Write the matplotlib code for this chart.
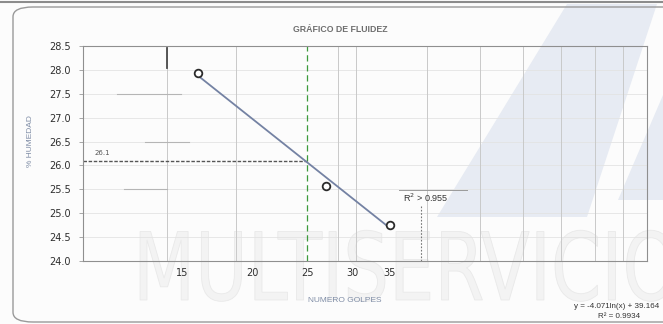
import matplotlib
matplotlib.use("Agg")
import matplotlib.pyplot as plt
import numpy as np
from matplotlib.patches import FancyBboxPatch, Polygon, PathPatch
from matplotlib.textpath import TextPath
from matplotlib.font_manager import FontProperties
from matplotlib.transforms import Affine2D

# Atterberg liquid-limit test: blow counts vs moisture content
golpes = [16, 27, 35]
humedad = [27.94, 25.56, 24.76]

# Logarithmic trendline reported by the spreadsheet
coef_a = -4.071
coef_b = 39.164
r2_fit = 0.9934
r2_label = 0.955

# Liquid limit read at 25 blows
golpes_ll = 25
humedad_ll = 26.1

x_ticks = [15, 20, 25, 30, 35]
y_ticks = [24.0, 24.5, 25.0, 25.5, 26.0, 26.5, 27.0, 27.5, 28.0, 28.5]

W, H = 663, 324
fig = plt.figure(figsize=(W / 100, H / 100), dpi=100)
fig.patch.set_facecolor("#fcfcfc")


def px(x, y):
    """pixel (from top-left) -> figure fraction"""
    return x / W, 1 - y / H


# --- background watermark -------------------------------------------------
band = [(437, 217), (567, 4), (657, 4), (587, 217)]
fig.patches.append(Polygon([px(*p) for p in band], closed=True,
                           transform=fig.transFigure, facecolor="#e7ebf3",
                           edgecolor="none", zorder=-5))
band2 = [(618, 200), (663, 95), (663, 200)]
fig.patches.append(Polygon([px(*p) for p in band2], closed=True,
                           transform=fig.transFigure, facecolor="#e7ebf3",
                           edgecolor="none", zorder=-5))

tp = TextPath((0, 0), "MULTISERVICIO", size=1,
              prop=FontProperties(family="DejaVu Sans"))
tr = Affine2D().scale(72, 94).translate(133, H - 300)
fig.patches.append(PathPatch(tp, transform=tr, facecolor="#f3f3f3",
                             edgecolor="#e9e9e9", lw=0.6, zorder=-4))

# rounded frame and scan border
fig.patches.append(FancyBboxPatch(px(13, 322), (700 - 13) / W, (322 - 7) / H,
                                  boxstyle="round,pad=0,rounding_size=0.03",
                                  transform=fig.transFigure, facecolor="none",
                                  edgecolor="#9a9a9a", lw=1.0, zorder=-3))
fig.add_artist(plt.Line2D([0, 1], [1 - 2 / H, 1 - 2 / H],
                          transform=fig.transFigure, color="#8c8c8c", lw=1.5))

# --- plot area -------------------------------------------------------------
ax = fig.add_axes([83 / W, 1 - 261 / H, (647 - 83) / W, (261 - 46) / H])
ax.set_facecolor("none")
ax.set_zorder(1)
ax.set_xscale("log")
ax.set_xlim(10, 100)
ax.set_ylim(24.0, 28.5)

# grid
for gy in y_ticks:
    ax.axhline(gy, color="#e3e3e3", lw=0.6, zorder=1)
for gx in [14.1, 18.7, 28.3, 30.5, 40.7, 50.6, 60.3, 70.5, 80.9, 90.5]:
    ax.axvline(gx, color="#c9c9c9", lw=0.7, zorder=1)
# faint leftover strokes
for yy, x0, x1 in [(27.5, 11.5, 14.9), (26.5, 12.9, 15.4), (25.5, 11.8, 14.1)]:
    ax.plot([x0, x1], [yy, yy], color="#b5b5b5", lw=0.8, zorder=1)
ax.plot([14.1, 14.1], [28.04, 28.45], color="#4a4a4a", lw=1.3, zorder=2)

ax.set_xticks(x_ticks)
ax.set_xticklabels([str(v) for v in x_ticks])
ax.xaxis.set_minor_locator(matplotlib.ticker.NullLocator())
ax.set_yticks(y_ticks)
ax.set_yticklabels([f"{v:.1f}" for v in y_ticks])
ax.tick_params(axis="x", length=0, pad=5, labelsize=7, labelcolor="#2e2e2e")
ax.tick_params(axis="y", length=3, width=0.6, color="#999999", pad=6,
               labelsize=7, labelcolor="#2e2e2e")
for s in ax.spines.values():
    s.set_color("#8f8f8f")
    s.set_linewidth(0.8)

# liquid-limit guides
ax.axvline(golpes_ll, color="#3c9a3c", lw=0.9, ls=(0, (5, 3)), zorder=2)
ax.plot([10, golpes_ll], [humedad_ll, humedad_ll], color="#555555", lw=1.0,
        ls=(0, (2.5, 1.2)), zorder=2)
ax.text(10.5, humedad_ll + 0.1, f"{humedad_ll:.1f}", fontsize=5,
        color="#555555", va="bottom", ha="left")

# trendline over the tested range, then the measured points
xs = np.linspace(min(golpes), max(golpes), 50)
ax.plot(xs, coef_a * np.log(xs) + coef_b, color="#7482a3", lw=1.3, zorder=3)
ax.plot(golpes, humedad, ls="none", marker="o", ms=5.5, mfc="white",
        mec="#2b2b2b", mew=1.3, zorder=4)

# R² note with its guide strokes
ax.plot([36.3, 48.0], [25.48, 25.48], color="#9a9a9a", lw=0.7, zorder=2)
ax.plot([39.8, 39.8], [24.0, 25.15], color="#777777", lw=0.8,
        ls=(0, (1.5, 1.5)), zorder=2)
ax.text(36.9, 25.33, f"R$^2$ > {r2_label}", fontsize=6.5, color="#333333",
        va="center", ha="left", family="Liberation Sans", zorder=5)

# titles and labels
fig.text(*px(340, 30), "GRÁFICO DE FLUIDEZ", fontsize=6.3, fontweight="bold",
         color="#6e6e6e", ha="center", va="center", family="Liberation Sans")
fig.text(*px(30, 141), "% HUMEDAD", fontsize=6, color="#7f8da6",
         rotation=90, ha="center", va="center", family="Liberation Sans")
fig.text(*px(345, 300), "NUMERO GOLPES", fontsize=6, color="#7f8da6",
         ha="center", va="center", family="Liberation Sans")
fig.text(*px(659, 306), f"y = {coef_a}ln(x) + {coef_b}", fontsize=5.8,
         color="#333333", ha="right", va="center", family="Liberation Sans")
fig.text(*px(619, 317), f"R² = {r2_fit}", fontsize=5.8, color="#333333",
         ha="center", va="center", family="Liberation Sans")

fig.savefig("out.png", dpi=100, facecolor=fig.get_facecolor())
